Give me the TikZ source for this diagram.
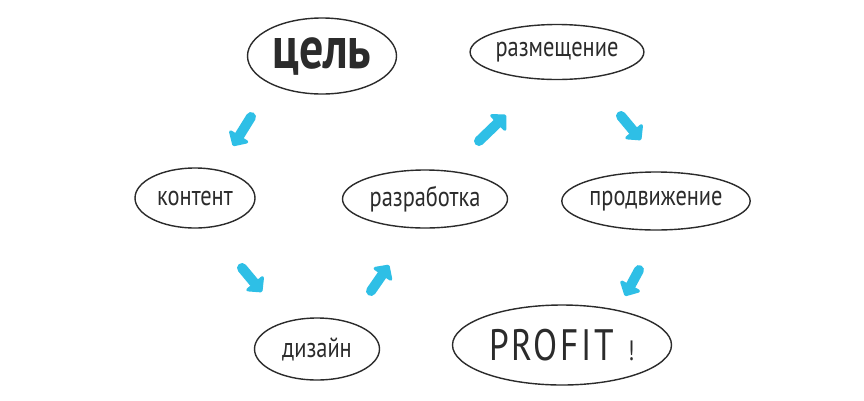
\documentclass[tikz,border=0pt]{standalone}
\usepackage{fontspec}
\setmainfont{PT Sans}[FakeStretch=0.8]
\usetikzlibrary{shapes.geometric,arrows.meta}
\definecolor{ink}{HTML}{2B2B2B}
\definecolor{arrowblue}{HTML}{2EBFE6}
\tikzset{
  blob/.style={ellipse, draw=ink, line width=1.4pt, inner sep=0pt, text=ink},
  smalltxt/.style={font=\fontsize{28}{30}\selectfont},
  flow/.style={arrowblue, line width=10pt, line cap=round,
    -{Triangle[length=13pt, width=26pt, round]}}
}
\begin{document}
\begin{tikzpicture}[x=1pt, y=-1pt]
\useasboundingbox (0,0) rectangle (864,400);
\fill[white] (0,0) rectangle (864,400);

\node[blob, minimum width=149pt, minimum height=76pt, font=\bfseries\fontsize{60}{62}\selectfont] (goal) at (322,56) {цель};
\node[blob, smalltxt, minimum width=170pt, minimum height=55pt] (place) at (557,52) {размещение};
\node[blob, smalltxt, minimum width=120pt, minimum height=60pt] (content) at (195,198) {контент};
\node[blob, smalltxt, minimum width=165pt, minimum height=58pt] (dev) at (425,199) {разработка};
\node[blob, smalltxt, minimum width=178pt, minimum height=58pt] (promo) at (656,201) {продвижение};
\node[blob, smalltxt, minimum width=125pt, minimum height=62pt] (design) at (317,349) {дизайн};
\node[blob, minimum width=219pt, minimum height=80pt] (profit) at (562,345)
  {{\fontsize{44}{46}\selectfont\addfontfeatures{LetterSpace=6}PROFIT}\hspace{14pt}{\fontsize{28}{30}\selectfont !}};

\coordinate (a1s) at (251,117); \coordinate (a1e) at (233,146);
\coordinate (a2s) at (242,268); \coordinate (a2e) at (262,292);
\coordinate (a3s) at (371,291); \coordinate (a3e) at (389,265);
\coordinate (a4s) at (479,141); \coordinate (a4e) at (506,115);
\coordinate (a5s) at (621,116); \coordinate (a5e) at (641,140);
\coordinate (a6s) at (639,270); \coordinate (a6e) at (625,296);

\foreach \i in {1,...,6} {
  \draw[flow] (a\i s) -- (a\i e);
}
\end{tikzpicture}
\end{document}
